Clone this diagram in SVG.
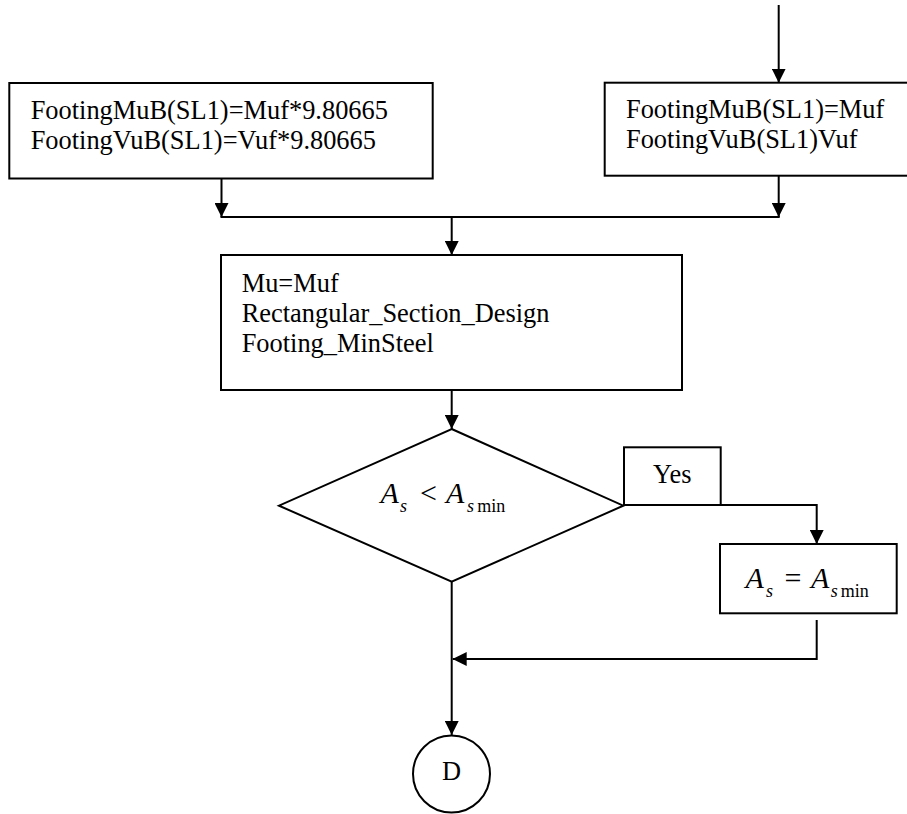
<svg xmlns="http://www.w3.org/2000/svg" width="907" height="814" viewBox="0 0 907 814">
<style>
.box{fill:#fff;stroke:#000;stroke-width:2}
.ln{fill:none;stroke:#000;stroke-width:2}
text{font-family:'Liberation Serif','Times New Roman',Times,serif;fill:#000}
.t{font-size:26.4px}
.i{font-style:italic}
</style>
<defs>
<marker id="ah" viewBox="0 0 10 10" refX="10" refY="5" markerWidth="14" markerHeight="14" markerUnits="userSpaceOnUse" orient="auto">
<path d="M0,0 L10,5 L0,10 z" fill="#000"/>
</marker>
</defs>
<rect width="907" height="814" fill="#fff"/>
<g id="connectors">
<line class="ln" x1="778.7" y1="5" x2="778.7" y2="82.7" marker-end="url(#ah)"/>
<line class="ln" x1="221.5" y1="179" x2="221.5" y2="217" marker-end="url(#ah)"/>
<line class="ln" x1="778.7" y1="176" x2="778.7" y2="217" marker-end="url(#ah)"/>
<line class="ln" x1="220.5" y1="217" x2="779.7" y2="217"/>
<line class="ln" x1="451.7" y1="217" x2="451.7" y2="255" marker-end="url(#ah)"/>
<line class="ln" x1="451.7" y1="390" x2="451.7" y2="429" marker-end="url(#ah)"/>
<polyline class="ln" points="720.7,505 816.7,505 816.7,544" marker-end="url(#ah)"/>
<polyline class="ln" points="816.7,620 816.7,659 452.7,659" marker-end="url(#ah)"/>
<line class="ln" x1="451.7" y1="581.7" x2="451.7" y2="735" marker-end="url(#ah)"/>
</g>
<g id="node-left">
<rect class="box" x="9.3" y="83" width="423.4" height="95.5"/>
<text class="t" x="30.7" y="118.5" font-family="Liberation Serif, serif">FootingMuB(SL1)=Muf*9.80665</text>
<text class="t" x="30.7" y="149" font-family="Liberation Serif, serif">FootingVuB(SL1)=Vuf*9.80665</text>
</g>
<g id="node-right">
<rect class="box" x="604.7" y="82.7" width="310" height="93"/>
<text class="t" x="626" y="118.3">FootingMuB(SL1)=Muf</text>
<text class="t" x="626" y="148.3">FootingVuB(SL1)Vuf</text>
</g>
<g id="node-mid">
<rect class="box" x="221" y="255" width="461" height="135"/>
<text class="t" x="241.7" y="291.7">Mu=Muf</text>
<text class="t" x="241.7" y="321.7">Rectangular_Section_Design</text>
<text class="t" x="241.7" y="351.7">Footing_MinSteel</text>
</g>
<g id="node-decision">
<polygon class="box" points="451.7,429 623.3,505.7 451.7,581.7 279,505.7"/>
<text class="i" x="380.5" y="503.3" font-size="30">A</text>
<text class="i" x="400" y="511.7" font-size="18">s</text>
<text x="420" y="503.3" font-size="30">&lt;</text>
<text class="i" x="446" y="503.3" font-size="30">A</text>
<text class="i" x="467" y="511.7" font-size="18">s</text>
<text x="477.3" y="511.7" font-size="18">min</text>
</g>
<g id="node-yes">
<rect class="box" x="624" y="447.3" width="96.7" height="57.7"/>
<text class="t" x="672.3" y="483.3" text-anchor="middle">Yes</text>
</g>
<g id="node-assign">
<rect class="box" x="720" y="544" width="176.7" height="69.3"/>
<text class="i" x="745.5" y="588.3" font-size="30">A</text>
<text class="i" x="766" y="596.7" font-size="18">s</text>
<text x="784.5" y="588.3" font-size="30">=</text>
<text class="i" x="811" y="588.3" font-size="30">A</text>
<text class="i" x="830.7" y="596.7" font-size="18">s</text>
<text x="840.7" y="596.7" font-size="18">min</text>
</g>
<g id="node-D">
<circle class="box" cx="451.5" cy="774" r="38.5"/>
<text class="t" x="451.5" y="780" text-anchor="middle" font-size="25">D</text>
</g>
</svg>
